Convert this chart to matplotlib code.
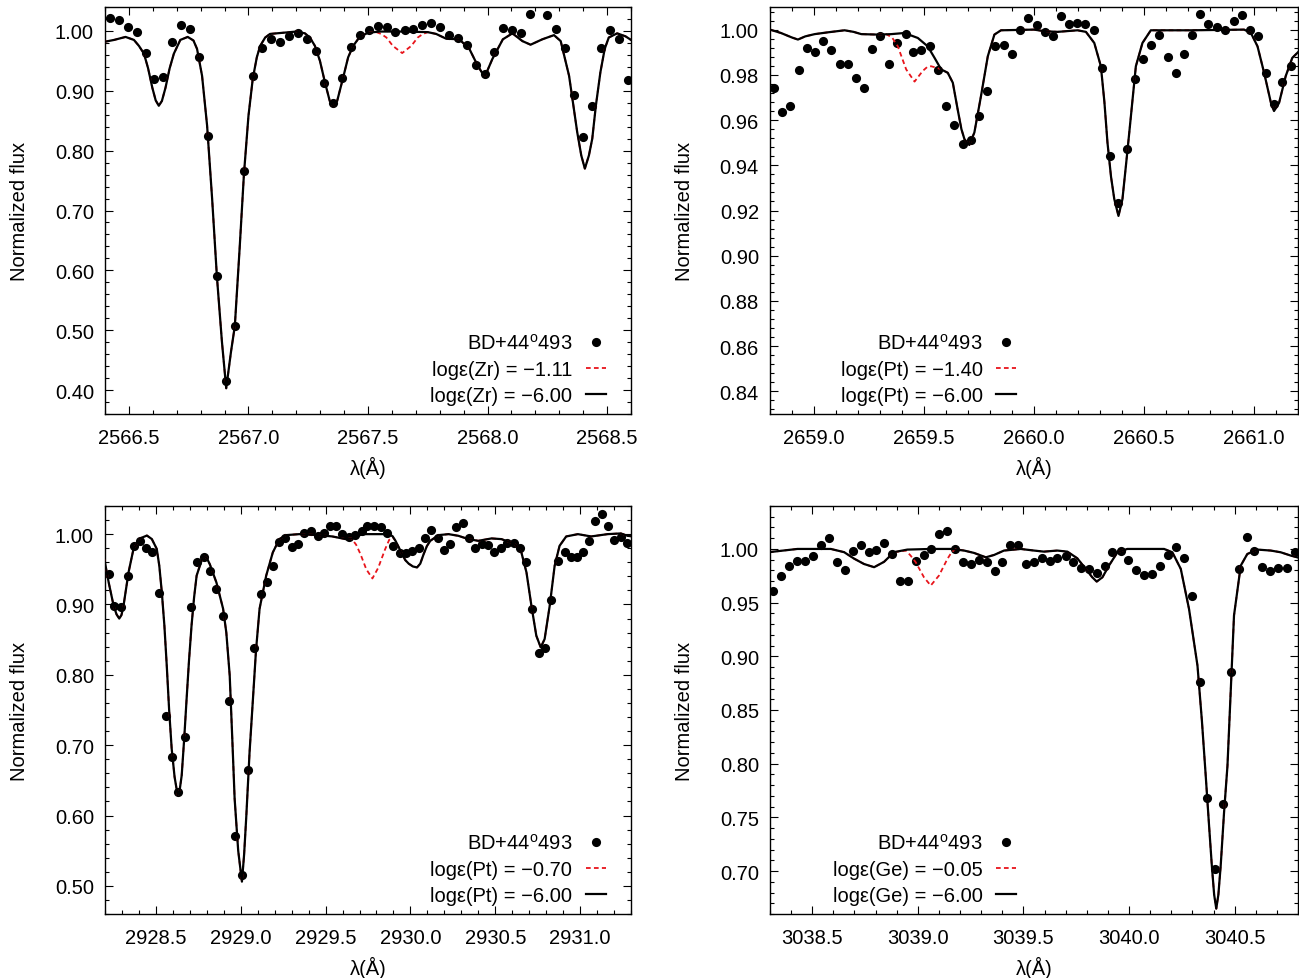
import matplotlib
matplotlib.use("Agg")
import matplotlib.pyplot as plt
from matplotlib.ticker import MultipleLocator, AutoMinorLocator, FormatStrFormatter
import numpy as np

# ---------------------------------------------------------------- data
star_label = "BD+44$^{\\rm o}$493"

# Zr II 2567 region
zr_obs_wave = [2566.421, 2566.458, 2566.496, 2566.532, 2566.571, 2566.607, 2566.643, 2566.681,
               2566.718, 2566.756, 2566.793, 2566.831, 2566.868, 2566.906, 2566.943, 2566.981,
               2567.018, 2567.056, 2567.093, 2567.131, 2567.168, 2567.206, 2567.243, 2567.281,
               2567.318, 2567.354, 2567.392, 2567.429, 2567.467, 2567.504, 2567.542, 2567.579,
               2567.615, 2567.653, 2567.689, 2567.727, 2567.763, 2567.802, 2567.839, 2567.877,
               2567.914, 2567.952, 2567.989, 2568.027, 2568.064, 2568.102, 2568.139, 2568.177,
               2568.250, 2568.288, 2568.325, 2568.363, 2568.400, 2568.438, 2568.475, 2568.513,
               2568.550, 2568.588]
zr_obs_flux = [1.021, 1.018, 1.006, 0.998, 0.963, 0.920, 0.923, 0.982,
               1.010, 1.004, 0.956, 0.825, 0.590, 0.415, 0.507, 0.766,
               0.925, 0.972, 0.986, 0.982, 0.992, 0.996, 0.987, 0.967,
               0.913, 0.879, 0.922, 0.974, 0.993, 1.002, 1.008, 1.006,
               0.999, 1.001, 1.004, 1.010, 1.013, 1.006, 0.993, 0.989,
               0.976, 0.943, 0.928, 0.965, 1.005, 1.001, 0.996, 1.028,
               1.026, 1.003, 0.972, 0.893, 0.823, 0.874, 0.971, 1.002,
               0.986, 0.918]
zr_base_wave = [2566.400, 2566.438, 2566.486, 2566.521, 2566.542, 2566.563, 2566.580, 2566.598,
                2566.612, 2566.625, 2566.638, 2566.653, 2566.670, 2566.688, 2566.715, 2566.746,
                2566.770, 2566.785, 2566.806, 2566.827, 2566.848, 2566.868, 2566.889, 2566.907,
                2566.927, 2566.943, 2566.963, 2566.981, 2567.000, 2567.018, 2567.035, 2567.049,
                2567.070, 2567.090, 2567.146, 2567.200, 2567.236, 2567.257, 2567.278, 2567.299,
                2567.320, 2567.340, 2567.354, 2567.371, 2567.396, 2567.417, 2567.438, 2567.465,
                2567.500, 2567.550, 2567.650, 2567.750, 2567.785, 2567.827, 2567.882, 2567.924,
                2567.955, 2567.980, 2567.990, 2568.020, 2568.064, 2568.104, 2568.146, 2568.180,
                2568.229, 2568.278, 2568.306, 2568.341, 2568.357, 2568.375, 2568.392, 2568.407,
                2568.424, 2568.438, 2568.453, 2568.472, 2568.490, 2568.507, 2568.542, 2568.577,
                2568.600]
zr_base_flux = [0.982, 0.985, 0.990, 0.985, 0.975, 0.962, 0.938, 0.905,
                0.884, 0.875, 0.883, 0.905, 0.937, 0.962, 0.985, 0.990,
                0.984, 0.970, 0.925, 0.842, 0.720, 0.590, 0.481, 0.403,
                0.464, 0.507, 0.636, 0.760, 0.858, 0.920, 0.956, 0.975,
                0.989, 0.995, 0.997, 0.999, 0.996, 0.989, 0.975, 0.950,
                0.914, 0.883, 0.874, 0.883, 0.922, 0.956, 0.975, 0.990,
                0.997, 0.999, 0.999, 0.998, 0.995, 0.987, 0.986, 0.970,
                0.945, 0.928, 0.925, 0.953, 0.986, 0.996, 0.983, 0.977,
                0.986, 0.993, 0.983, 0.925, 0.881, 0.831, 0.792, 0.770,
                0.792, 0.820, 0.875, 0.931, 0.970, 0.989, 0.996, 0.991,
                0.985]
zr_line_wave = [2567.528, 2567.555, 2567.577, 2567.604, 2567.643, 2567.681, 2567.708, 2567.730, 2567.750]
zr_line_flux = [0.999, 0.995, 0.989, 0.975, 0.963, 0.975, 0.989, 0.995, 0.998]
zr_abund = [-1.11, -6.00]

# Pt II 2660 region
pt1_obs_wave = [2658.818, 2658.854, 2658.892, 2658.930, 2658.966, 2659.004, 2659.042, 2659.079,
                2659.116, 2659.154, 2659.190, 2659.227, 2659.265, 2659.302, 2659.339, 2659.378,
                2659.416, 2659.452, 2659.488, 2659.525, 2659.562, 2659.601, 2659.638, 2659.676,
                2659.712, 2659.750, 2659.788, 2659.824, 2659.862, 2659.898, 2659.936, 2659.974,
                2660.012, 2660.050, 2660.088, 2660.123, 2660.160, 2660.197, 2660.234, 2660.271,
                2660.309, 2660.346, 2660.384, 2660.422, 2660.458, 2660.496, 2660.532, 2660.570,
                2660.608, 2660.645, 2660.682, 2660.720, 2660.756, 2660.793, 2660.831, 2660.869,
                2660.907, 2660.945, 2660.981, 2661.019, 2661.056, 2661.091, 2661.128, 2661.167]
pt1_obs_flux = [0.974, 0.9635, 0.966, 0.982, 0.992, 0.990, 0.995, 0.991,
                0.985, 0.985, 0.9785, 0.974, 0.9915, 0.997, 0.985, 0.994,
                0.998, 0.990, 0.991, 0.9926, 0.982, 0.966, 0.958, 0.9496,
                0.951, 0.962, 0.973, 0.9926, 0.993, 0.989, 1.000, 1.005,
                1.002, 0.999, 0.997, 1.006, 1.0025, 1.003, 1.0025, 1.000,
                0.983, 0.944, 0.9235, 0.947, 0.978, 0.987, 0.993, 0.9975,
                0.988, 0.981, 0.989, 0.9975, 1.007, 1.0025, 1.001, 1.000,
                1.004, 1.0066, 1.000, 0.997, 0.981, 0.967, 0.977, 0.984]
pt1_base_wave = [2658.800, 2658.850, 2658.900, 2658.927, 2658.960, 2659.003, 2659.063, 2659.139,
                 2659.180, 2659.215, 2659.290, 2659.351, 2659.411, 2659.472, 2659.517, 2659.548,
                 2659.578, 2659.608, 2659.631, 2659.653, 2659.670, 2659.684, 2659.706, 2659.729,
                 2659.759, 2659.790, 2659.820, 2659.850, 2660.000, 2660.047, 2660.107, 2660.198,
                 2660.236, 2660.274, 2660.304, 2660.320, 2660.334, 2660.350, 2660.365, 2660.384,
                 2660.402, 2660.418, 2660.433, 2660.463, 2660.493, 2660.531, 2660.713, 2660.955,
                 2660.986, 2661.016, 2661.046, 2661.077, 2661.091, 2661.114, 2661.144, 2661.174,
                 2661.200]
pt1_base_flux = [1.000, 0.9985, 0.9965, 0.9956, 0.997, 0.998, 0.9988, 0.9997,
                 0.999, 0.998, 0.9978, 0.998, 0.9985, 0.9963, 0.9926, 0.9875,
                 0.9824, 0.9809, 0.9765, 0.9647, 0.956, 0.9515, 0.949, 0.9545,
                 0.9706, 0.9882, 0.9978, 0.9997, 1.000, 0.9993, 0.999, 0.9997,
                 0.999, 0.9941, 0.9838, 0.968, 0.950, 0.935, 0.925, 0.9176,
                 0.925, 0.940, 0.9544, 0.9838, 0.9941, 0.9997, 0.9997, 1.000,
                 0.9985, 0.9926, 0.9809, 0.9676, 0.964, 0.9676, 0.9794, 0.9875,
                 0.990]
pt1_line_wave = [2659.328, 2659.355, 2659.381, 2659.419, 2659.457, 2659.494, 2659.515, 2659.532, 2659.562, 2659.580]
pt1_line_flux = [0.998, 0.9965, 0.9926, 0.9824, 0.977, 0.9817, 0.9835, 0.9838, 0.983, 0.9824]
pt1_abund = [-1.40, -6.00]

# Pt II 2930 region
pt2_obs_wave = [2928.222, 2928.255, 2928.294, 2928.333, 2928.368, 2928.407, 2928.443, 2928.479,
                2928.519, 2928.558, 2928.593, 2928.632, 2928.671, 2928.705, 2928.743, 2928.783,
                2928.818, 2928.857, 2928.896, 2928.931, 2928.968, 2929.007, 2929.042, 2929.077,
                2929.117, 2929.156, 2929.191, 2929.228, 2929.263, 2929.302, 2929.339, 2929.375,
                2929.414, 2929.453, 2929.488, 2929.525, 2929.564, 2929.599, 2929.638, 2929.674,
                2929.713, 2929.746, 2929.785, 2929.824, 2929.863, 2929.898, 2929.936, 2929.974,
                2930.009, 2930.049, 2930.088, 2930.123, 2930.160, 2930.195, 2930.234, 2930.270,
                2930.308, 2930.348, 2930.381, 2930.420, 2930.459, 2930.494, 2930.533, 2930.570,
                2930.610, 2930.645, 2930.683, 2930.717, 2930.756, 2930.795, 2930.830, 2930.869,
                2930.909, 2930.944, 2930.981, 2931.020, 2931.055, 2931.090, 2931.129, 2931.166,
                2931.202, 2931.240, 2931.279]
pt2_obs_flux = [0.943, 0.898, 0.896, 0.941, 0.983, 0.9905, 0.981, 0.974,
                0.916, 0.741, 0.683, 0.633, 0.7115, 0.896, 0.961, 0.968,
                0.947, 0.922, 0.884, 0.763, 0.571, 0.515, 0.665, 0.838,
                0.915, 0.932, 0.955, 0.989, 0.994, 0.982, 0.986, 1.001,
                1.004, 0.998, 1.002, 1.011, 1.011, 1.000, 0.996, 0.999,
                1.005, 1.012, 1.011, 1.0095, 1.001, 0.983, 0.973, 0.973,
                0.976, 0.981, 0.994, 1.006, 0.994, 0.978, 0.986, 1.0095,
                1.016, 0.994, 0.981, 0.986, 0.985, 0.974, 0.980, 0.987,
                0.987, 0.980, 0.960, 0.894, 0.831, 0.838, 0.907, 0.962,
                0.975, 0.967, 0.967, 0.975, 0.9905, 1.019, 1.028, 1.012,
                0.9915, 0.996, 0.988]
pt2_base_wave = [2928.196, 2928.222, 2928.251, 2928.268, 2928.284, 2928.297, 2928.309, 2928.339,
                 2928.368, 2928.407, 2928.447, 2928.476, 2928.505, 2928.520, 2928.535, 2928.550,
                 2928.564, 2928.578, 2928.593, 2928.610, 2928.628, 2928.640, 2928.652, 2928.667,
                 2928.681, 2928.695, 2928.710, 2928.725, 2928.740, 2928.778, 2928.800, 2928.818,
                 2928.857, 2928.896, 2928.915, 2928.935, 2928.950, 2928.964, 2928.985, 2929.007,
                 2929.020, 2929.033, 2929.052, 2929.072, 2929.090, 2929.111, 2929.150, 2929.189,
                 2929.228, 2929.267, 2929.345, 2929.462, 2929.540, 2929.619, 2929.658, 2929.716,
                 2929.873, 2929.895, 2929.912, 2929.930, 2929.951, 2929.970, 2929.990, 2930.015,
                 2930.039, 2930.058, 2930.078, 2930.097, 2930.117, 2930.166, 2930.225, 2930.283,
                 2930.342, 2930.400, 2930.478, 2930.537, 2930.615, 2930.654, 2930.684, 2930.713,
                 2930.742, 2930.768, 2930.791, 2930.821, 2930.850, 2930.879, 2930.918, 2930.987,
                 2931.065, 2931.162, 2931.240, 2931.279, 2931.300]
pt2_base_flux = [0.9645, 0.931, 0.898, 0.886, 0.880, 0.885, 0.898, 0.946,
                 0.979, 0.994, 0.998, 0.993, 0.979, 0.955, 0.917, 0.870,
                 0.813, 0.750, 0.695, 0.655, 0.629, 0.636, 0.657, 0.710,
                 0.766, 0.820, 0.870, 0.910, 0.941, 0.969, 0.966, 0.957,
                 0.931, 0.894, 0.860, 0.799, 0.710, 0.624, 0.550, 0.506,
                 0.545, 0.600, 0.690, 0.766, 0.835, 0.894, 0.941, 0.974,
                 0.993, 0.9986, 1.000, 0.9986, 0.9967, 0.9929, 0.9939, 1.000,
                 1.000, 0.997, 0.9905, 0.982, 0.9716, 0.963, 0.958, 0.954,
                 0.9527, 0.958, 0.9716, 0.983, 0.9905, 0.9986, 1.000, 0.9976,
                 0.9929, 0.9905, 0.9939, 0.9929, 0.9858, 0.974, 0.9456, 0.8983,
                 0.8556, 0.839, 0.8509, 0.8983, 0.955, 0.9834, 0.9967, 1.000,
                 0.9967, 1.000, 1.001, 0.9976, 0.997]
pt2_line_wave = [2929.652, 2929.680, 2929.705, 2929.740, 2929.776, 2929.810, 2929.850, 2929.875, 2929.895]
pt2_line_flux = [0.994, 0.985, 0.972, 0.950, 0.937, 0.952, 0.978, 0.992, 0.996]
pt2_abund = [-0.70, -6.00]

# Ge I 3039 region
ge_obs_wave = [3038.316, 3038.354, 3038.392, 3038.429, 3038.467, 3038.505, 3038.542, 3038.580,
               3038.616, 3038.654, 3038.692, 3038.730, 3038.767, 3038.804, 3038.841, 3038.878,
               3038.916, 3038.954, 3038.991, 3039.029, 3039.064, 3039.100, 3039.140, 3039.176,
               3039.214, 3039.252, 3039.290, 3039.326, 3039.364, 3039.400, 3039.437, 3039.474,
               3039.511, 3039.550, 3039.589, 3039.624, 3039.661, 3039.700, 3039.736, 3039.774,
               3039.811, 3039.847, 3039.885, 3039.921, 3039.961, 3039.997, 3040.035, 3040.071,
               3040.107, 3040.145, 3040.185, 3040.223, 3040.260, 3040.297, 3040.335, 3040.371,
               3040.407, 3040.445, 3040.483, 3040.519, 3040.557, 3040.593, 3040.629, 3040.669,
               3040.707, 3040.746, 3040.785]
ge_obs_flux = [0.961, 0.975, 0.9845, 0.989, 0.989, 0.993, 1.004, 1.010,
               0.988, 0.9805, 0.9985, 1.004, 0.997, 0.9994, 1.006, 0.995,
               0.970, 0.9705, 0.989, 0.994, 1.000, 1.014, 1.017, 1.000,
               0.988, 0.986, 0.990, 0.988, 0.979, 0.9876, 1.004, 1.004,
               0.986, 0.9876, 0.992, 0.989, 0.992, 0.993, 0.988, 0.982,
               0.981, 0.978, 0.9845, 0.997, 0.9985, 0.990, 0.9805, 0.976,
               0.977, 0.984, 0.994, 1.0016, 0.992, 0.9565, 0.876, 0.768,
               0.702, 0.762, 0.885, 0.981, 1.011, 0.9985, 0.983, 0.979,
               0.982, 0.982, 0.997]
ge_base_wave = [3038.295, 3038.430, 3038.588, 3038.651, 3038.698, 3038.745, 3038.793, 3038.840,
                3038.887, 3038.950, 3039.061, 3039.156, 3039.219, 3039.266, 3039.322, 3039.361,
                3039.408, 3039.487, 3039.550, 3039.597, 3039.660, 3039.708, 3039.755, 3039.795,
                3039.826, 3039.847, 3039.874, 3039.905, 3039.945, 3039.992, 3040.166, 3040.205,
                3040.245, 3040.284, 3040.324, 3040.345, 3040.363, 3040.378, 3040.392, 3040.403,
                3040.413, 3040.423, 3040.434, 3040.450, 3040.466, 3040.482, 3040.497, 3040.529,
                3040.560, 3040.608, 3040.671, 3040.718, 3040.766, 3040.800]
ge_base_flux = [0.997, 1.000, 1.000, 0.997, 0.991, 0.986, 0.983, 0.988,
                0.997, 0.9994, 1.000, 1.000, 0.9985, 0.9963, 0.9922, 0.9944,
                0.9985, 1.000, 0.9985, 0.9975, 0.9985, 0.9975, 0.9913, 0.9814,
                0.9736, 0.9696, 0.9736, 0.9845, 0.9969, 1.000, 1.000, 0.9969,
                0.9814, 0.9441, 0.8914, 0.840, 0.789, 0.745, 0.705, 0.678,
                0.665, 0.678, 0.705, 0.755, 0.798, 0.870, 0.938, 0.9845,
                0.9953, 0.9994, 0.9985, 0.9969, 0.9938, 0.992]
ge_line_wave = [3038.943, 3038.965, 3038.990, 3039.029, 3039.061, 3039.100, 3039.140, 3039.160, 3039.179]
ge_line_flux = [0.9985, 0.994, 0.9876, 0.9736, 0.9659, 0.9752, 0.9907, 0.997, 1.000]
ge_abund = [-0.05, -6.00]

# ---------------------------------------------------------------- style
plt.rcParams["font.family"] = ["Liberation Sans", "DejaVu Sans"]
plt.rcParams["mathtext.fontset"] = "custom"
plt.rcParams["mathtext.rm"] = "Liberation Sans"
plt.rcParams["mathtext.it"] = "Liberation Sans:italic"
FS = 14.5

W, H = 1299, 979
fig = plt.figure(figsize=(W / 100, H / 100), dpi=100)


def add_axes_px(left, top, right, bottom):
    return fig.add_axes([left / W, 1 - bottom / H, (right - left) / W, (bottom - top) / H])


def merge_line(base_w, base_f, seg_w, seg_f):
    """Model with the extra line: base spectrum outside the segment, segment inside."""
    bw, bf = np.asarray(base_w), np.asarray(base_f)
    keep = (bw < seg_w[0]) | (bw > seg_w[-1])
    w = np.concatenate([bw[keep], seg_w])
    f = np.concatenate([bf[keep], seg_f])
    order = np.argsort(w)
    return w[order], f[order]


def fmt_abund(v):
    return f"{v:.2f}".replace("-", "\u2212")


def panel(box, obs_w, obs_f, base_w, base_f, seg_w, seg_f, elem, abund,
          xlim, ylim, xstep, ystep, leg_x):
    ax = add_axes_px(*box)
    ax.plot(obs_w, obs_f, "o", color="black", ms=6.6, mew=0, zorder=2, label=star_label)
    rw, rf = merge_line(base_w, base_f, seg_w, seg_f)
    ax.plot(rw, rf, color="#e8141b", lw=1.3, dashes=(2.6, 1.8), zorder=3,
            label=f"log\u03b5({elem}) = {fmt_abund(abund[0])}")
    ax.plot(base_w, base_f, color="black", lw=1.6, zorder=4, solid_joinstyle="round",
            label=f"log\u03b5({elem}) = {fmt_abund(abund[1])}")
    ax.set_xlim(*xlim)
    ax.set_ylim(*ylim)
    ax.xaxis.set_major_locator(MultipleLocator(xstep))
    ax.xaxis.set_minor_locator(AutoMinorLocator(5))
    ax.yaxis.set_major_locator(MultipleLocator(ystep))
    ax.yaxis.set_minor_locator(AutoMinorLocator(5))
    ax.xaxis.set_major_formatter(FormatStrFormatter("%.1f"))
    ax.yaxis.set_major_formatter(FormatStrFormatter("%.2f"))
    ax.tick_params(which="both", direction="in", top=True, right=True,
                   labelsize=FS, width=0.8, colors="black")
    ax.tick_params(which="major", length=5.5)
    ax.tick_params(which="minor", length=3)
    ax.tick_params(axis="x", which="major", pad=10)
    ax.tick_params(axis="y", which="major", pad=8)
    for s in ax.spines.values():
        s.set_linewidth(1.0)
    ax.set_xlabel("\u03bb(\u00c5)", fontsize=FS, va="center")
    ax.xaxis.set_label_coords(0.5, -53 / (box[3] - box[1]))
    ax.set_ylabel("Normalized flux", fontsize=FS, va="center")
    ax.yaxis.set_label_coords(-85 / (box[2] - box[0]), 0.5)
    ax.legend(loc="lower right", bbox_to_anchor=(leg_x, 0.021), bbox_transform=ax.transAxes,
              frameon=False, markerfirst=False, fontsize=FS, handlelength=1.0,
              handletextpad=0.66, labelspacing=0.36, borderaxespad=0, borderpad=0)
    return ax


panel((105, 8, 631, 415), zr_obs_wave, zr_obs_flux, zr_base_wave, zr_base_flux,
      zr_line_wave, zr_line_flux, "Zr", zr_abund,
      (2566.4, 2568.6), (0.36, 1.04), 0.5, 0.1, 0.952)
panel((770, 8, 1298, 415), pt1_obs_wave, pt1_obs_flux, pt1_base_wave, pt1_base_flux,
      pt1_line_wave, pt1_line_flux, "Pt", pt1_abund,
      (2658.8, 2661.2), (0.83, 1.01), 0.5, 0.02, 0.466)
panel((105, 507, 631, 915), pt2_obs_wave, pt2_obs_flux, pt2_base_wave, pt2_base_flux,
      pt2_line_wave, pt2_line_flux, "Pt", pt2_abund,
      (2928.2, 2931.3), (0.46, 1.04), 0.5, 0.1, 0.952)
panel((770, 507, 1298, 915), ge_obs_wave, ge_obs_flux, ge_base_wave, ge_base_flux,
      ge_line_wave, ge_line_flux, "Ge", ge_abund,
      (3038.3, 3040.8), (0.66, 1.04), 0.5, 0.05, 0.466)

fig.savefig("out.png", dpi=100)
